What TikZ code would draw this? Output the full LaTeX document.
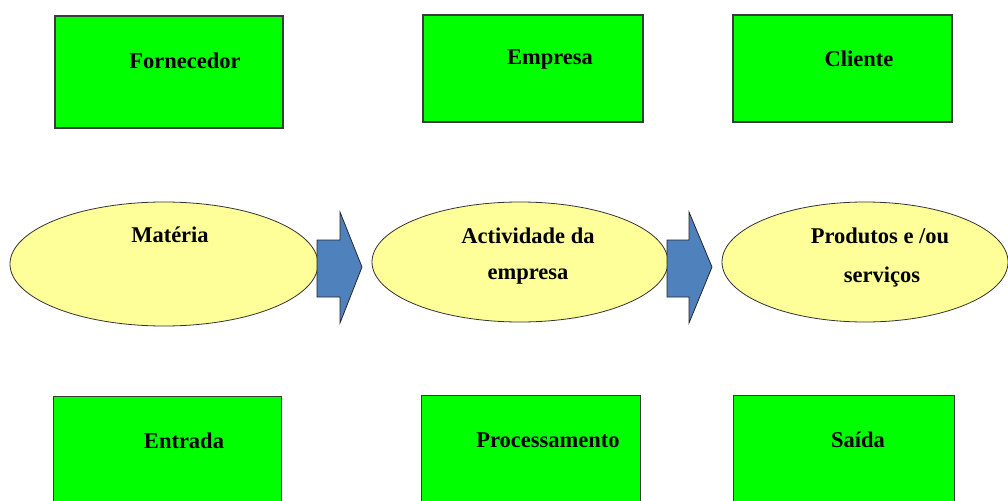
\documentclass[tikz,border=0pt]{standalone}
\usepackage{fontspec}
\setmainfont{LiberationSerif}[Extension=.ttf,UprightFont=*-Regular,BoldFont=*-Bold]
\usetikzlibrary{shapes.geometric}
\definecolor{boxgreen}{HTML}{00FF00}
\definecolor{ovalyellow}{HTML}{FFFF99}
\definecolor{arrowblue}{HTML}{4F81BD}
\definecolor{edgegray}{HTML}{3A3A3A}
\begin{document}
\begin{tikzpicture}[x=1pt,y=-1pt,
  greenbox/.style={draw=edgegray,line width=1.4pt,fill=boxgreen,rectangle,inner sep=0pt},
  oval/.style={draw=black!80,line width=0.8pt,fill=ovalyellow,ellipse,inner sep=0pt},
  lbl/.style={font=\rmfamily\bfseries\fontsize{22.5}{24}\selectfont,inner sep=0pt,text=black},
  blockarrow/.style={fill=arrowblue,draw=black!85,line width=0.8pt,line join=miter}]
\useasboundingbox (0,0) rectangle (1008,500);
\clip (0,0) rectangle (1008,500);
\fill[white] (0,0) rectangle (1008,500);

% top row of boxes
\node[greenbox,minimum width=228pt,minimum height=112pt] (forn) at (169,72) {};
\node[greenbox,minimum width=220pt,minimum height=107pt] (emp) at (533,68.5) {};
\node[greenbox,minimum width=219pt,minimum height=107pt] (cli) at (842.5,68.5) {};
\node[lbl] (fornT) at (185,61) {Fornecedor};
\node[lbl] (empT) at (550,60) {Empresa};
\node[lbl] (cliT) at (859,59) {Cliente};

% middle row of ovals
\node[oval,minimum width=308pt,minimum height=124pt] (mat) at (164,264) {};
\node[oval,minimum width=296pt,minimum height=120pt] (act) at (520,262) {};
\node[oval,minimum width=286pt,minimum height=120pt] (prod) at (865,262) {};
\node[lbl] (matT) at (170,235) {Matéria};
\node[lbl] (actT1) at (528,236) {Actividade da};
\node[lbl] (actT2) at (528,277) {empresa};
\node[lbl] (prodT1) at (880,236) {Produtos e /ou};
\node[lbl] (prodT2) at (882,277) {serviços};

% block arrows between the ovals
\draw[blockarrow] (317,240) -- (340,240) -- (340,212) -- (362,267) -- (340,323) -- (340,297) -- (317,297) -- cycle;
\draw[blockarrow] (667,240) -- (689,240) -- (689,212) -- (712,267) -- (689,323) -- (689,297) -- (667,297) -- cycle;

% bottom row of boxes
\node[greenbox,minimum width=228pt,minimum height=120pt,anchor=north west] (ent) at (53,396) {};
\node[greenbox,minimum width=219pt,minimum height=120pt,anchor=north west] (proc) at (421,395) {};
\node[greenbox,minimum width=221pt,minimum height=120pt,anchor=north west] (sai) at (733,395) {};
\node[lbl] (entT) at (184,441) {Entrada};
\node[lbl] (procT) at (548,440) {Processamento};
\node[lbl] (saiT) at (858,440) {Saída};
\end{tikzpicture}
\end{document}
